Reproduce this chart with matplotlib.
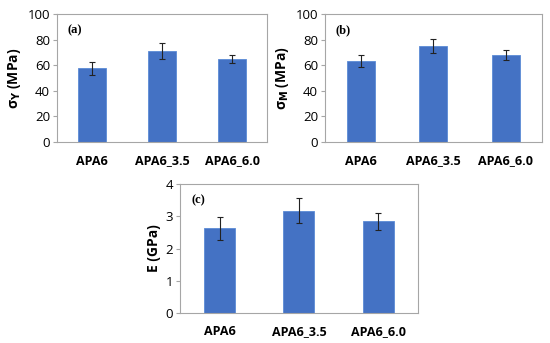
import numpy as np
import matplotlib.pyplot as plt

# Data
samples = ['APA6', 'APA6_3.5', 'APA6_6.0']
yield_stress = [57.5, 71.0, 65.0]
yield_err = [5.0, 6.0, 3.0]
max_stress = [63.5, 75.0, 68.0]
max_err = [4.5, 5.5, 4.0]
modulus = [2.63, 3.17, 2.84]
modulus_err = [0.36, 0.39, 0.27]

plt.rcParams['font.family'] = ['Open Sans', 'DejaVu Sans']
bar_color = '#4472C4'
grey = '#A6A6A6'

fig = plt.figure(figsize=(5.5, 3.43), dpi=100)
ax_a = fig.add_axes([0.1036, 0.586, 0.382, 0.373])
ax_b = fig.add_axes([0.591, 0.586, 0.394, 0.373])
ax_c = fig.add_axes([0.327, 0.0875, 0.433, 0.376])

panels = [
    (ax_a, yield_stress, yield_err, r'σ$_\mathbf{Y}$ (MPa)', '(a)', [0, 20, 40, 60, 80, 100]),
    (ax_b, max_stress, max_err, r'σ$_\mathbf{M}$ (MPa)', '(b)', [0, 20, 40, 60, 80, 100]),
    (ax_c, modulus, modulus_err, 'E (GPa)', '(c)', [0, 1, 2, 3, 4]),
]

x = np.arange(len(samples))
for ax, vals, errs, ylabel, tag, yt in panels:
    ax.bar(x, vals, width=0.39, color=bar_color, edgecolor='#5B8BD6', linewidth=0.6, zorder=2)
    ax.errorbar(x, vals, yerr=errs, fmt='none', ecolor='#222222', elinewidth=0.8,
                capsize=2.2, capthick=0.8, zorder=3)
    ax.set_xlim(-0.5, 2.5)
    ax.set_ylim(yt[0], yt[-1])
    ax.set_yticks(yt)
    ax.set_xticks(x)
    ax.set_xticklabels(samples, fontweight='bold', fontsize=9)
    ax.tick_params(axis='x', length=0, pad=9)
    ax.tick_params(axis='y', length=3, width=0.8, color=grey, labelsize=9.5, pad=2)
    for s in ax.spines.values():
        s.set_color(grey)
        s.set_linewidth(0.8)
    ax.set_ylabel(ylabel, fontweight='bold', fontsize=10, labelpad=3)
    ax.text(0.05, 0.85, tag, transform=ax.transAxes, fontsize=9,
            family='Liberation Serif', fontweight='bold')

fig.savefig('out.png', dpi=100)
